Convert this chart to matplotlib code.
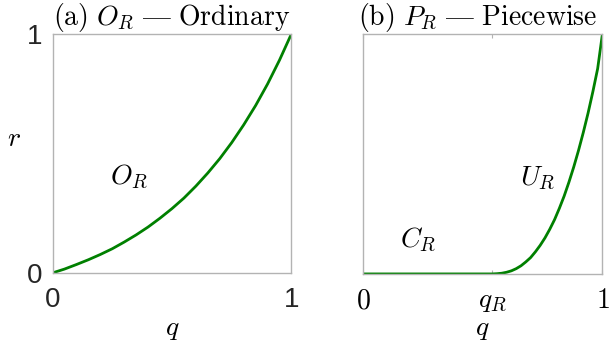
import numpy as np
import matplotlib
matplotlib.use("Agg")
import matplotlib.pyplot as plt

plt.rcParams['mathtext.fontset'] = 'cm'

# values
q_ord = [0, 0.05, 0.1, 0.15, 0.2, 0.25, 0.3, 0.35, 0.4, 0.45, 0.5,
         0.55, 0.6, 0.65, 0.7, 0.75, 0.8, 0.85, 0.9, 0.95, 1.0]
r_ord = [0, 0.016, 0.035, 0.055, 0.077, 0.101, 0.129, 0.159, 0.192, 0.229, 0.269,
         0.313, 0.363, 0.418, 0.478, 0.545, 0.619, 0.700, 0.790, 0.890, 1.0]

q_R = 0.54
q_pw = [0, 0.54, 0.56, 0.58, 0.60, 0.62, 0.64, 0.66, 0.68, 0.70, 0.72, 0.74,
        0.76, 0.78, 0.80, 0.82, 0.84, 0.86, 0.88, 0.90, 0.92, 0.94, 0.96, 0.98, 1.0]
r_pw = [0, 0, 0.001, 0.003, 0.007, 0.013, 0.022, 0.034, 0.050, 0.068, 0.092, 0.119,
        0.150, 0.186, 0.226, 0.273, 0.324, 0.382, 0.445, 0.514, 0.589, 0.670, 0.759, 0.855, 1.0]

titles = [r'$\mathrm{(a)}\ O_R\ \mathrm{—\ Ordinary}$',
          r'$\mathrm{(b)}\ P_R\ \mathrm{—\ Piecewise}$']

green = '#008000'
spine_col = '#b3b3b3'
fs = 20

fig = plt.figure(figsize=(6.11, 3.45), dpi=100)
ax1 = fig.add_axes([0.086, 0.209, 0.391, 0.693])
ax2 = fig.add_axes([0.594, 0.206, 0.392, 0.696])

for ax in (ax1, ax2):
    ax.set_xlim(0, 1)
    ax.set_ylim(0, 1)
    for s in ax.spines.values():
        s.set_color(spine_col)
        s.set_linewidth(1.0)

# (a) ordinary
ax1.plot(q_ord, r_ord, color=green, lw=2)
ax1.set_xticks([0, 1])
ax1.set_yticks([0, 1])
ax1.tick_params(length=0, labelsize=fs, labelcolor='#262626')
ax1.tick_params(axis='x', pad=10)
ax1.tick_params(axis='y', pad=7)
for lab in ax1.get_xticklabels() + ax1.get_yticklabels():
    lab.set_family('Liberation Sans')
ax1.set_xlabel(r'$q$', fontsize=fs, labelpad=1)
ax1.set_ylabel(r'$r$', fontsize=fs, rotation=0, va='center', ha='center')
ax1.yaxis.set_label_coords(-0.16, 0.565)
ax1.set_title(titles[0], fontsize=fs, pad=6)
ax1.text(0.32, 0.40, r'$O_R$', fontsize=fs, ha='center', va='center')

# (b) piecewise
ax2.plot(q_pw, r_pw, color=green, lw=2)
ax2.set_xticks([0, q_R, 1])
ax2.set_xticklabels([r'$0$', r'$q_R$', r'$1$'])
ax2.set_yticks([])
ax2.tick_params(axis='x', direction='in', length=3, color=spine_col, top=True,
                labelsize=fs, pad=9)
ax2.set_xlabel(r'$q$', fontsize=fs, labelpad=0)
ax2.set_title(titles[1], fontsize=fs, pad=6, x=0.48)
ax2.text(0.23, 0.14, r'$C_R$', fontsize=fs, ha='center', va='center')
ax2.text(0.73, 0.40, r'$U_R$', fontsize=fs, ha='center', va='center')

fig.savefig('out.png', dpi=100)
